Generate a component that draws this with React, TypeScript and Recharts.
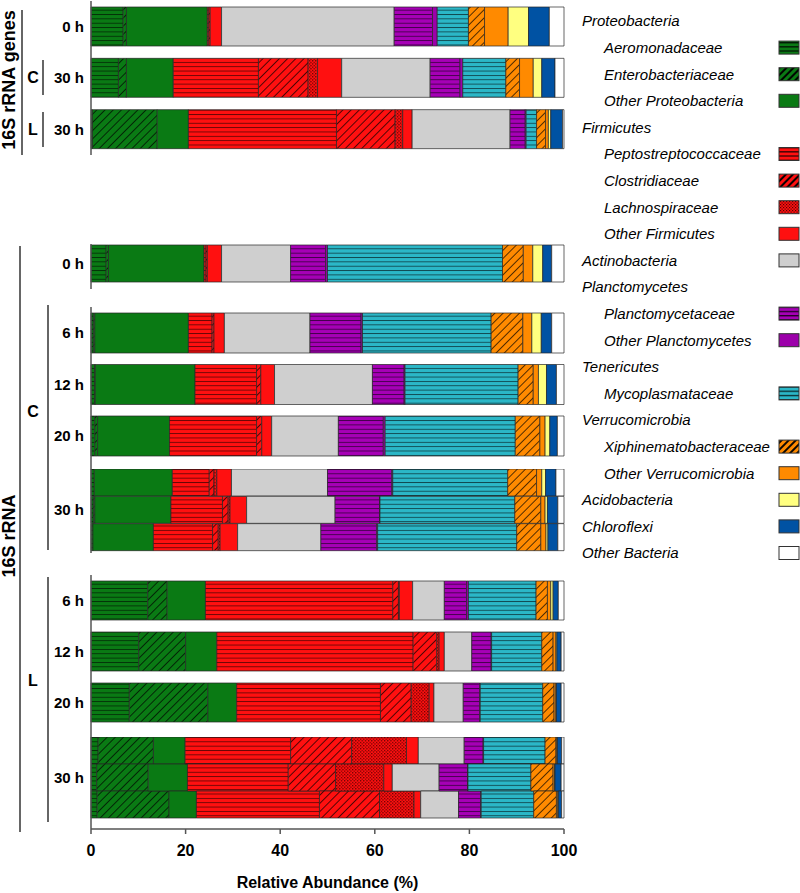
// modules
import { BarChart, Bar, XAxis, YAxis } from "recharts";

const FONT = '"Liberation Sans", Arial, Helvetica, sans-serif';

// taxa, in stacking order (left to right)
const taxa = [
  "Aeromonadaceae",
  "Enterobacteriaceae",
  "Other Proteobacteria",
  "Peptostreptococcaceae",
  "Clostridiaceae",
  "Lachnospiraceae",
  "Other Firmicutes",
  "Actinobacteria",
  "Planctomycetaceae",
  "Other Planctomycetes",
  "Mycoplasmataceae",
  "Xiphinematobacteraceae",
  "Other Verrucomicrobia",
  "Acidobacteria",
  "Chloroflexi",
  "Other Bacteria",
];

// 16S rRNA genes (%)
const genes0h = [6.8, 0.7, 17.1, 0.3, 0.3, 0, 2.4, 36.5, 8.1, 1.0, 6.6, 3.4, 5.0, 4.3, 4.4, 3.1];
const genesC30h = [5.8, 1.7, 9.9, 18.0, 10.5, 2.0, 5.1, 18.7, 6.3, 0.6, 9.1, 2.9, 2.9, 1.8, 2.8, 1.9];
const genesL30h = [0.3, 13.7, 6.6, 31.3, 12.4, 1.6, 2.0, 20.7, 3.2, 0.2, 2.2, 1.9, 0.6, 0.5, 2.5, 0.3];

// 16S rRNA (%)
const rna0h = [3.2, 0.5, 20.2, 0.4, 0.3, 0, 3.0, 14.6, 7.4, 0.4, 37.0, 4.4, 2.0, 2.1, 1.9, 2.6];
const rnaC6h = [0.5, 0.3, 19.8, 5.0, 0.4, 0, 2.2, 18.1, 10.8, 0.3, 27.2, 6.7, 1.9, 2.0, 2.2, 2.6];
const rnaC12h = [0.8, 0.1, 21.1, 13.0, 0.9, 0, 2.9, 20.7, 6.7, 0.2, 23.9, 3.2, 1.1, 1.7, 2.1, 1.6];
const rnaC20h = [0.8, 0.6, 15.2, 18.4, 1.1, 0, 2.1, 14.1, 9.5, 0.4, 27.5, 5.2, 1.1, 1.0, 1.6, 1.4];
const rnaC30hA = [0.7, 0, 16.5, 7.8, 1.0, 0.6, 3.1, 20.3, 13.6, 0.2, 24.3, 6.1, 1.1, 0.8, 2.2, 1.7];
const rnaC30hB = [0.5, 0.3, 16.1, 10.9, 1.2, 0.4, 3.5, 18.7, 9.4, 0.1, 28.5, 5.5, 0.9, 0.5, 2.2, 1.3];
const rnaC30hC = [0.4, 0, 12.8, 12.5, 1.2, 0.4, 3.7, 17.6, 11.8, 0.2, 29.4, 5.1, 1.1, 0.4, 2.1, 1.3];
const rnaL6h = [12.0, 4.1, 8.1, 39.6, 1.2, 0.2, 2.8, 6.7, 4.7, 0.4, 14.3, 2.4, 0.7, 0.5, 1.1, 1.2];
const rnaL12h = [10.1, 9.9, 6.6, 41.5, 5.0, 0.5, 1.1, 5.8, 4.1, 0.1, 10.6, 2.4, 0.6, 0.2, 0.9, 0.6];
const rnaL20h = [8.1, 16.6, 6.1, 30.4, 6.5, 3.8, 1.0, 6.2, 3.5, 0.1, 13.2, 2.4, 0.4, 0.1, 1.0, 0.6];
const rnaL30hA = [1.5, 11.7, 6.7, 22.3, 12.9, 11.6, 2.5, 9.7, 4.0, 0.1, 13.0, 2.3, 0.2, 0.1, 0.9, 0.5];
const rnaL30hB = [1.2, 10.9, 8.3, 21.3, 10.0, 10.2, 1.8, 9.9, 6.0, 0.1, 13.3, 4.7, 0.3, 0.1, 1.3, 0.6];
const rnaL30hC = [1.3, 15.2, 5.8, 26.0, 12.7, 7.3, 1.4, 8.0, 4.7, 0.1, 11.1, 4.8, 0.3, 0.1, 0.7, 0.5];

const xTicks = [0, 20, 40, 60, 80, 100];

type Row = { key: string; label: string; values: number[] };

const genesRows: Row[] = [
  { key: "g0", label: "0 h", values: genes0h },
  { key: "gC30", label: "30 h", values: genesC30h },
  { key: "gL30", label: "30 h", values: genesL30h },
];
const rna0Rows: Row[] = [{ key: "r0", label: "0 h", values: rna0h }];
const cRows: Row[] = [
  { key: "c6", label: "6 h", values: rnaC6h },
  { key: "c12", label: "12 h", values: rnaC12h },
  { key: "c20", label: "20 h", values: rnaC20h },
];
const c30Rows: Row[] = [
  { key: "c30a", label: "", values: rnaC30hA },
  { key: "c30b", label: "30 h", values: rnaC30hB },
  { key: "c30c", label: "", values: rnaC30hC },
];
const lRows: Row[] = [
  { key: "l6", label: "6 h", values: rnaL6h },
  { key: "l12", label: "12 h", values: rnaL12h },
  { key: "l20", label: "20 h", values: rnaL20h },
];
const l30Rows: Row[] = [
  { key: "l30a", label: "", values: rnaL30hA },
  { key: "l30b", label: "30 h", values: rnaL30hB },
  { key: "l30c", label: "", values: rnaL30hC },
];

const GREEN = "#0a7a14";
const RED = "#ff1010";
const PURPLE = "#a600b6";
const CYAN = "#2bb7c7";
const ORANGE = "#ff8a00";

const fills: Record<string, string> = {
  "Aeromonadaceae": "h-green",
  "Enterobacteriaceae": "d-green",
  "Other Proteobacteria": GREEN,
  "Peptostreptococcaceae": "h-red",
  "Clostridiaceae": "d-red",
  "Lachnospiraceae": "dots-red",
  "Other Firmicutes": RED,
  "Actinobacteria": "#cfcfcf",
  "Planctomycetaceae": "h-purple",
  "Other Planctomycetes": "#9c00aa",
  "Mycoplasmataceae": "h-cyan",
  "Xiphinematobacteraceae": "d-orange",
  "Other Verrucomicrobia": ORANGE,
  "Acidobacteria": "#ffff80",
  "Chloroflexi": "#0052a3",
  "Other Bacteria": "#ffffff",
};

const paint = (t: string, legend = false) => {
  const f = fills[t];
  if (f.startsWith("#")) return f;
  return `url(#${legend ? "L" : ""}${f})`;
};

const legendGroups = [
  { head: "Proteobacteria", items: ["Aeromonadaceae", "Enterobacteriaceae", "Other Proteobacteria"] },
  { head: "Firmicutes", items: ["Peptostreptococcaceae", "Clostridiaceae", "Lachnospiraceae", "Other Firmicutes"] },
  { head: "Actinobacteria", items: [] },
  { head: "Planctomycetes", items: ["Planctomycetaceae", "Other Planctomycetes"] },
  { head: "Tenericutes", items: ["Mycoplasmataceae"] },
  { head: "Verrucomicrobia", items: ["Xiphinematobacteraceae", "Other Verrucomicrobia"] },
  { head: "Acidobacteria", items: [] },
  { head: "Chloroflexi", items: [] },
  { head: "Other Bacteria", items: [] },
];

function Patterns() {
  const hLines = (id: string, base: string, legend: boolean) => (
    <pattern key={id} id={id} patternUnits="userSpaceOnUse" width={8} height={legend ? 4.2 : 4.35}>
      <rect width={8} height={5} fill={base} />
      <rect y={0} width={8} height={legend ? 1.3 : 0.9} fill="#000" fillOpacity={legend ? 0.8 : 0.6} />
    </pattern>
  );
  const hatch = (id: string, base: string, legend: boolean) => (
    <pattern
      key={id}
      id={id}
      patternUnits="userSpaceOnUse"
      width={legend ? 5 : 5.8}
      height={8}
      patternTransform="rotate(45)"
    >
      <rect width={8} height={8} fill={base} />
      <rect x={0} width={legend ? 2 : 0.9} height={8} fill="#000" fillOpacity={legend ? 0.95 : 0.75} />
    </pattern>
  );
  const dots = (id: string, legend: boolean) => (
    <pattern key={id} id={id} patternUnits="userSpaceOnUse" width={legend ? 3 : 3.2} height={legend ? 3 : 3.2}>
      <rect width={4} height={4} fill={RED} />
      <rect width={1.2} height={1.2} fill="#5a0000" />
      <rect x={legend ? 1.5 : 1.6} y={legend ? 1.5 : 1.6} width={1.2} height={1.2} fill="#5a0000" />
    </pattern>
  );
  const make = (legend: boolean) => {
    const p = legend ? "L" : "";
    return [
      hLines(p + "h-green", GREEN, legend),
      hLines(p + "h-red", RED, legend),
      hLines(p + "h-purple", PURPLE, legend),
      hLines(p + "h-cyan", CYAN, legend),
      hatch(p + "d-green", GREEN, legend),
      hatch(p + "d-red", RED, legend),
      hatch(p + "d-orange", ORANGE, legend),
      dots(p + "dots-red", legend),
    ];
  };
  return (
    <svg width={0} height={0} style={{ position: "absolute", left: 0, top: 0 }}>
      <defs>
        {make(false)}
        {make(true)}
      </defs>
    </svg>
  );
}

type PanelProps = {
  rows: Row[];
  top: number;
  height: number;
  gap: number;
  padTop?: number;
  padBottom?: number;
  showX?: boolean;
};

function Panel({ rows, top, height, gap, padTop = 0, padBottom = 0, showX = false }: PanelProps) {
  const data = rows.map(r => {
    const d: Record<string, string | number> = { name: r.key };
    taxa.forEach((t, i) => { d[t] = r.values[i]; });
    return d;
  });
  const labels: Record<string, string> = {};
  rows.forEach(r => { labels[r.key] = r.label; });

  return (
    <div style={{ position: "absolute", left: 0, top }}>
      <BarChart
        width={600}
        height={height}
        data={data}
        layout="vertical"
        margin={{ top: 0, right: 36, bottom: 0, left: 0 }}
        barCategoryGap={gap}
      >
        <XAxis
          type="number"
          domain={[0, 100]}
          ticks={xTicks}
          hide={!showX}
          height={64}
          axisLine={{ stroke: "#555", strokeWidth: 1.5 }}
          tickLine={{ stroke: "#555", strokeWidth: 1.5 }}
          tickSize={5}
          tickMargin={11}
          tick={{ fill: "#000", fontSize: 16, fontWeight: "bold" }}
          label={{
            value: "Relative Abundance (%)",
            position: "insideBottom",
            offset: 5,
            fill: "#000",
            fontSize: 16,
            fontWeight: "bold",
          }}
        />
        <YAxis
          type="category"
          dataKey="name"
          width={91}
          padding={{ top: padTop, bottom: padBottom }}
          axisLine={{ stroke: "#555", strokeWidth: 1.5 }}
          tickLine={false}
          tickSize={0}
          tickMargin={7}
          interval={0}
          tickFormatter={(v: string) => labels[v]}
          tick={{ fill: "#000", fontSize: 15, fontWeight: "bold" }}
        />
        {taxa.map(t => (
          <Bar
            key={t}
            dataKey={t}
            stackId="s"
            fill={paint(t)}
            stroke="#262626"
            strokeWidth={0.7}
            isAnimationActive={false}
          />
        ))}
      </BarChart>
    </div>
  );
}

function Legend() {
  const lines: { text: string; indent: boolean; swatch?: string }[] = [];
  legendGroups.forEach(g => {
    if (g.items.length === 0) lines.push({ text: g.head, indent: false, swatch: g.head });
    else {
      lines.push({ text: g.head, indent: false });
      g.items.forEach(it => lines.push({ text: it, indent: true, swatch: it }));
    }
  });
  return (
    <svg width={230} height={600} style={{ position: "absolute", left: 570, top: 0 }}>
      {lines.map((l, i) => {
        const cy = 21 + i * 26.6;
        return (
          <g key={l.text + i}>
            <text
              x={l.indent ? 34 : 12}
              y={cy + 5.3}
              fontSize={15}
              fontStyle="italic"
              fill="#000"
            >
              {l.text}
            </text>
            {l.swatch && (
              <rect
                x={209}
                y={cy - 6.5}
                width={20}
                height={13}
                fill={paint(l.swatch, true)}
                stroke="#333"
                strokeWidth={1}
              />
            )}
          </g>
        );
      })}
    </svg>
  );
}

function GroupLabels() {
  const bold = { fontWeight: "bold", fill: "#000" } as const;
  return (
    <svg width={91} height={893} style={{ position: "absolute", left: 0, top: 0 }}>
      <text transform="translate(15,80) rotate(-90)" textAnchor="middle" fontSize={18} {...bold}>
        16S rRNA genes
      </text>
      <line x1={22} y1={10} x2={22} y2={155} stroke="#333" strokeWidth={1.5} />
      <text x={33} y={83} textAnchor="middle" fontSize={16} {...bold}>C</text>
      <line x1={43} y1={60} x2={43} y2={95} stroke="#333" strokeWidth={1.5} />
      <text x={33} y={135} textAnchor="middle" fontSize={16} {...bold}>L</text>
      <line x1={43} y1={112} x2={43} y2={147} stroke="#333" strokeWidth={1.5} />

      <text transform="translate(15,536) rotate(-90)" textAnchor="middle" fontSize={18} {...bold}>
        16S rRNA
      </text>
      <line x1={20} y1={246} x2={20} y2={832} stroke="#333" strokeWidth={1.5} />
      <text x={33} y={417} textAnchor="middle" fontSize={16} {...bold}>C</text>
      <line x1={48} y1={305} x2={48} y2={550} stroke="#333" strokeWidth={1.5} />
      <text x={33} y={686} textAnchor="middle" fontSize={16} {...bold}>L</text>
      <line x1={48} y1={577} x2={48} y2={822} stroke="#333" strokeWidth={1.5} />
    </svg>
  );
}

export default function App() {
  return (
    <div
      style={{
        position: "absolute",
        left: 0,
        top: 0,
        width: 800,
        height: 893,
        background: "#fff",
        fontFamily: FONT,
        overflow: "hidden",
      }}
    >
      <Patterns />
      <Panel rows={genesRows} top={1} height={154} gap={6} />
      <Panel rows={rna0Rows} top={244} height={45} gap={0} padTop={1} padBottom={7} />
      <Panel rows={cRows} top={307} height={162} gap={6} padBottom={7.5} />
      <Panel rows={c30Rows} top={469} height={84} gap={0} padBottom={2} />
      <Panel rows={lRows} top={575} height={162} gap={6} padBottom={9} />
      <Panel rows={l30Rows} top={737} height={156} gap={0} padBottom={11} showX />
      <GroupLabels />
      <Legend />
    </div>
  );
}
